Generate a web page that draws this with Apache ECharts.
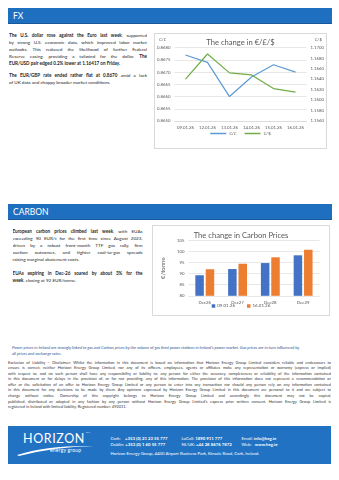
<!DOCTYPE html>
<html>
<head>
<meta charset="utf-8">
<script src="https://cdn.jsdelivr.net/npm/echarts@6/dist/echarts.min.js"></script>
<style>
  html, body { margin: 0; padding: 0; background: #fff; }
  body { width: 339px; height: 480px; position: relative; overflow: hidden; font-family: Lato, "Open Sans", sans-serif; color: #1e1e1e; }
  .abs { position: absolute; }
  .bar { position: absolute; left: 8px; width: 324px; height: 16px; background: #1f6fc0; border-bottom: 1px solid #17579a; box-sizing: border-box; }
  .bar span { position: absolute; left: 5px; top: 3px; color: #fff; font-size: 8.5px; line-height: 10px; }
  .ln { position: absolute; font-size: 4.6px; line-height: 5px; white-space: nowrap; }
  .j { text-align: justify; text-align-last: justify; white-space: normal; height: 5px; overflow: hidden; }
  .box { position: absolute; border: 1px solid #d9d9d9; box-sizing: border-box; background: #fff; }
  .note { position: absolute; left: 12px; font-size: 4.1px; line-height: 5px; font-style: italic; color: #2d4f8e; white-space: nowrap; }
  .disc { position: absolute; left: 8px; width: 323px; font-size: 3.9px; line-height: 5px; color: #333; }
  .foot { position: absolute; left: 8px; top: 426px; width: 323px; height: 38px; background: #2272c3; }
  .ft { position: absolute; color: #fff; font-size: 4.3px; line-height: 5px; white-space: nowrap; }
  b { font-weight: 700; }
</style>
</head>
<body>

<!-- FX section -->
<div class="bar" style="top:8px"><span>FX</span></div>

<div class="ln j" style="left:9px; top:33px; width:138px"><b>The U.S. dollar rose against the Euro last week</b>, supported</div>
<div class="ln j" style="left:9px; top:40px; width:138px">by strong U.S. economic data, which improved labor market</div>
<div class="ln j" style="left:9px; top:47px; width:138px">outlooks. This reduced the likelihood of further Federal</div>
<div class="ln j" style="left:9px; top:54px; width:138px">Reserve easing, providing a tailwind for the dollar. <b>The</b></div>
<div class="ln" style="left:9px; top:61px"><b>EUR/USD pair edged 0.2% lower at 1.16417 on Friday.</b></div>

<div class="ln j" style="left:9px; top:72.5px; width:138px"><b>The EUR/GBP rate ended rather flat at 0.8670</b> amid a lack</div>
<div class="ln" style="left:9px; top:79.5px">of UK data and choppy broader market conditions.</div>

<div class="box" style="left:154px; top:33px; width:173px; height:116px"></div>
<div id="fx" class="abs" style="left:154px; top:33px; width:173px; height:116px"></div>

<!-- Carbon section -->
<div class="bar" style="top:204px"><span>CARBON</span></div>

<div class="ln j" style="left:12.5px; top:228.5px; width:130px"><b>European carbon prices climbed last week</b>, with EUAs</div>
<div class="ln j" style="left:12.5px; top:235.6px; width:130px">exceeding 90 EUR/t for the first time since August 2023,</div>
<div class="ln j" style="left:12.5px; top:242.7px; width:130px">driven by a robust front-month TTF gas rally, firm</div>
<div class="ln j" style="left:12.5px; top:249.8px; width:130px">auction outcomes, and tighter coal-to-gas spreads</div>
<div class="ln" style="left:12.5px; top:256.9px">raising marginal abatement costs.</div>

<div class="ln j" style="left:12.5px; top:270.8px; width:130px"><b>EUAs expiring in Dec-26 soared by about 3% for the</b></div>
<div class="ln" style="left:12.5px; top:277.9px"><b>week</b>, closing at 92 EUR/tonne.</div>

<div class="box" style="left:152px; top:225px; width:178px; height:91px"></div>
<div id="carbon" class="abs" style="left:152px; top:225px; width:178px; height:91px"></div>

<!-- Footnote and disclaimer -->
<div class="note" style="top:344.5px">Power prices in Ireland are strongly linked to gas and Carbon prices by the volume of gas fired power stations in Ireland's power market. Gas prices are in turn influenced by</div>
<div class="note" style="top:350.5px">all prices and exchange rates.</div>

<div class="disc" style="top:359.5px">
  <div class="j" style="height:5.6px">Exclusion of Liability – Disclaimer: Whilst the information in this document is based on information that Horizon Energy Group Limited considers reliable and endeavours to</div>
  <div class="j" style="height:5.6px">ensure is correct, neither Horizon Energy Group Limited, nor any of its officers, employees, agents or affiliates make any representation or warranty (express or implied)</div>
  <div class="j" style="height:5.6px">with respect to, and no such person shall have any responsibility or liability to, any person for either the accuracy, completeness or reliability of the information contained</div>
  <div class="j" style="height:5.6px">in this document or for delays in the provision of, or for not providing, any of this information. The provision of this information does not represent a recommendation or</div>
  <div class="j" style="height:5.6px">offer or the solicitation of an offer to Horizon Energy Group Limited or any person to enter into any transaction nor should any person rely on any information contained</div>
  <div class="j" style="height:5.6px">in this document for any decisions to be made by them. Any opinions expressed by Horizon Energy Group Limited in this document are personal to it and are subject to</div>
  <div class="j" style="height:5.6px">change without notice. Ownership of this copyright belongs to Horizon Energy Group Limited and accordingly this document may not be copied,</div>
  <div class="j" style="height:5.6px">published, distributed or adapted in any fashion by any person without Horizon Energy Group Limited's express prior written consent. Horizon Energy Group Limited is</div>
  <div style="height:5.6px; white-space:nowrap">registered in Ireland with limited liability. Registered number: 492011.</div>
</div>

<!-- Footer -->
<div class="foot">
  <div class="ft" style="left:15px; top:6px; font-size:12.5px; line-height:14px; letter-spacing:0.6px">HORIZON</div>
  <div class="ft" style="left:78px; top:5px; font-size:2.5px; line-height:3px">TM</div>
  <svg class="abs" style="left:0; top:0" width="100" height="38">
    <path d="M9,29 Q40,19 86,20 Q45,21 11,30 Z" fill="#fff"/>
  </svg>
  <div class="ft" style="left:42px; top:20.5px; font-size:5px; line-height:6px; letter-spacing:0.2px">energy group</div>

  <div class="ft" style="left:102.5px; top:10px">Cork:&nbsp;&nbsp;&nbsp; <b>+353 (0) 21 23 55 777</b></div>
  <div class="ft" style="left:102.5px; top:15.5px">Dublin: <b>+353 (0) 1 60 55 777</b></div>
  <div class="ft" style="left:173.5px; top:10px">LoCall: <b>1890 911 777</b></div>
  <div class="ft" style="left:173.5px; top:15.5px">NI/UK: <b>+44 28 8676 7872</b></div>
  <div class="ft" style="left:233.5px; top:10px">Email: <b>info@heg.ie</b></div>
  <div class="ft" style="left:233.5px; top:15.5px">Web:&nbsp;&nbsp; <b>www.heg.ie</b></div>
  <div class="ft" style="left:102.5px; top:24.5px">Horizon Energy Group, 4400 Airport Business Park, Kinsale Road, Cork, Ireland.</div>
</div>

<script>
// FX: EUR/GBP on the left axis, EUR/USD on the right axis
const fxDates = ['09.01.26', '12.01.26', '13.01.26', '14.01.26', '15.01.26', '16.01.26'];
const eurGbp = [0.8677, 0.8674, 0.8660, 0.8668, 0.8673, 0.8670];
const eurUsd = [1.1640, 1.1688, 1.1652, 1.1648, 1.1622, 1.1615];
const fxNames = ['€/£', '€/$'];

// Carbon: EUA futures by expiry on two dates
const carbonExpiries = ['Dec26', 'Dec27', 'Dec28', 'Dec29'];
const carbonDates = ['09.01.26', '16.01.26'];
const euaJan09 = [89.3, 92.1, 94.8, 98.3];
const euaJan16 = [92.0, 94.5, 97.4, 100.8];

const FONT = 'Lato, "Open Sans", sans-serif';
const GREY = '#595959';
const GRID = '#d9d9d9';

const fx = echarts.init(document.getElementById('fx'), null, { renderer: 'canvas' });
fx.setOption({
  animation: false,
  textStyle: { fontFamily: FONT },
  title: {
    text: 'The change in €/£/$', left: 'center', top: 1,
    textStyle: { fontSize: 7.6, fontWeight: 'normal', color: GREY, fontFamily: FONT }
  },
  graphic: [
    { type: 'text', left: 5, top: 4, style: { text: fxNames[0], fontSize: 4.5, fill: GREY, fontFamily: FONT } },
    { type: 'text', right: 5, top: 4, style: { text: fxNames[1], fontSize: 4.5, fill: GREY, fontFamily: FONT } }
  ],
  grid: { left: 19.5, right: 19.5, top: 14.7, bottom: 28 },
  legend: {
    bottom: 8, left: 'center', itemWidth: 16, itemHeight: 1.5, itemGap: 8,
    icon: 'rect',
    textStyle: { fontSize: 4.5, color: GREY, fontFamily: FONT, padding: [0, 0, 0, -2] },
    data: fxNames
  },
  xAxis: {
    type: 'category', data: fxDates, boundaryGap: true,
    axisLine: { lineStyle: { color: GRID, width: 0.8 } },
    axisTick: { show: false },
    axisLabel: { interval: 0, fontSize: 4.3, color: GREY, margin: 5, fontFamily: FONT }
  },
  yAxis: [
    {
      type: 'value', min: 0.8650, max: 0.8680, interval: 0.0005,
      axisLine: { show: false }, axisTick: { show: false },
      splitLine: { lineStyle: { color: GRID, width: 0.6 } },
      axisLabel: { fontSize: 4.3, color: GREY, margin: 4, fontFamily: FONT, formatter: v => v.toFixed(4) }
    },
    {
      type: 'value', min: 1.1560, max: 1.1700, interval: 0.0020,
      axisLine: { show: false }, axisTick: { show: false },
      splitLine: { show: false },
      axisLabel: { fontSize: 4.3, color: GREY, margin: 4, fontFamily: FONT, formatter: v => v.toFixed(4) }
    }
  ],
  series: [
    { name: fxNames[0], type: 'line', yAxisIndex: 0, data: eurGbp, symbol: 'none',
      lineStyle: { color: '#5b9bd5', width: 1.2 }, itemStyle: { color: '#5b9bd5' } },
    { name: fxNames[1], type: 'line', yAxisIndex: 1, data: eurUsd, symbol: 'none',
      lineStyle: { color: '#70ad47', width: 1.2 }, itemStyle: { color: '#70ad47' } }
  ]
});

const carbon = echarts.init(document.getElementById('carbon'), null, { renderer: 'canvas' });
carbon.setOption({
  animation: false,
  textStyle: { fontFamily: FONT },
  title: {
    text: 'The change in Carbon Prices', left: 'center', top: 2,
    textStyle: { fontSize: 7.6, fontWeight: 'normal', color: GREY, fontFamily: FONT }
  },
  grid: { left: 23, right: 10.5, top: 15.5, bottom: 20.2 },
  legend: {
    bottom: 2.5, left: 'center', itemWidth: 3.5, itemHeight: 3.5, itemGap: 12,
    icon: 'rect',
    textStyle: { fontSize: 4.5, color: GREY, fontFamily: FONT, padding: [0, 0, 0, -3] },
    data: carbonDates
  },
  xAxis: {
    type: 'category', data: carbonExpiries,
    axisLine: { show: false },
    axisTick: { show: false },
    axisLabel: { interval: 0, fontSize: 4.3, color: GREY, margin: 5, fontFamily: FONT }
  },
  yAxis: {
    type: 'value', min: 80, max: 105, interval: 5,
    name: '€/tonne', nameLocation: 'middle', nameGap: 14, nameRotate: 90,
    nameTextStyle: { fontSize: 6, color: GREY, fontFamily: FONT },
    axisLine: { show: false }, axisTick: { show: false },
    splitLine: { lineStyle: { color: GRID, width: 0.6 } },
    axisLabel: { fontSize: 4.3, color: GREY, margin: 4, fontFamily: FONT }
  },
  series: [
    { name: carbonDates[0], type: 'bar', data: euaJan09, barWidth: 8.5, barGap: '22%',
      itemStyle: { color: '#4472c4' } },
    { name: carbonDates[1], type: 'bar', data: euaJan16, barWidth: 8.5, barGap: '22%',
      itemStyle: { color: '#ed7d31' } }
  ]
});
</script>
</body>
</html>
